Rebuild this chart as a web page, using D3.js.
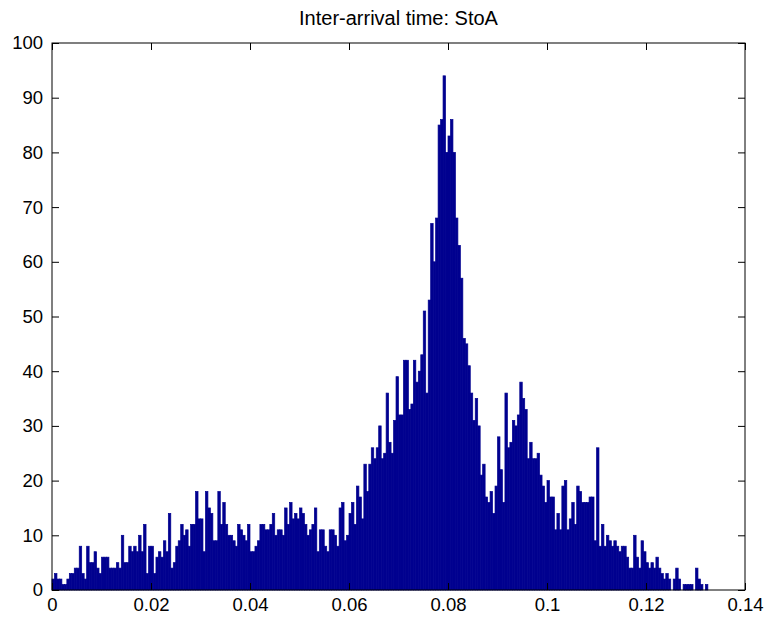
<!DOCTYPE html>
<html>
<head>
    <script src="https://d3js.org/d3.v7.min.js"></script>
    <style>
        body { margin: 0; background: #fff; }
        text { font-family: "Liberation Sans", Arial, sans-serif; }
    </style>
</head>
<body>
    <div id="chart" style="width: 770px; height: 618px;"></div>

    <script>
        // histogram counts, one per bin (bin width 0.0005, starting at 0)
        var binWidth = 0.0005;
        var counts = [
            2, 3, 2, 2, 1, 1, 2, 3, 3, 4, 4, 8, 3, 2, 8, 5, 5, 7, 4, 3,
            6, 6, 6, 4, 4, 4, 5, 4, 10, 5, 5, 8, 7, 8, 7, 10, 7, 12, 3, 8,
            8, 3, 6, 7, 6, 9, 7, 14, 4, 5, 8, 9, 12, 10, 11, 8, 12, 12, 18, 13,
            13, 7, 18, 15, 14, 9, 9, 18, 12, 16, 12, 10, 10, 9, 8, 12, 11, 10, 9, 12,
            7, 7, 8, 9, 12, 12, 11, 11, 12, 14, 10, 11, 11, 10, 15, 12, 16, 13, 14, 13,
            15, 14, 12, 10, 11, 12, 15, 7, 11, 11, 8, 7, 11, 11, 10, 8, 15, 16, 9, 10,
            14, 16, 12, 19, 17, 13, 23, 18, 23, 26, 24, 26, 30, 24, 25, 36, 27, 25, 31, 39,
            32, 32, 42, 42, 33, 34, 42, 38, 40, 43, 51, 36, 53, 67, 60, 68, 85, 86, 94, 80,
            83, 86, 80, 68, 63, 57, 46, 45, 41, 36, 31, 35, 30, 21, 23, 17, 16, 18, 14, 19,
            28, 22, 16, 36, 26, 27, 31, 30, 32, 38, 35, 33, 24, 27, 24, 24, 25, 21, 19, 16,
            20, 17, 17, 11, 14, 11, 19, 20, 11, 13, 16, 12, 19, 18, 16, 16, 16, 17, 17, 9,
            26, 8, 12, 8, 10, 9, 8, 9, 8, 7, 8, 8, 6, 4, 4, 10, 6, 4, 9, 7,
            5, 4, 5, 4, 6, 4, 3, 2, 3, 2, 0, 2, 4, 2, 0, 1, 1, 1, 1, 0,
            4, 2, 1, 0, 1
        ];

        var xTicks = [0, 0.02, 0.04, 0.06, 0.08, 0.1, 0.12, 0.14];
        var xTickLabels = ["0", "0.02", "0.04", "0.06", "0.08", "0.1", "0.12", "0.14"];
        var yTicks = [0, 10, 20, 30, 40, 50, 60, 70, 80, 90, 100];
        var titleText = "Inter-arrival time: StoA";

        function drawChart() {
            // step 1: svg and plot box
            var width = 770,
                height = 618;
            var boxLeft = 52, boxRight = 745, boxTop = 43, boxBottom = 590;

            var svg = d3.select("#chart")
                .append("svg")
                .attr("width", width)
                .attr("height", height);

            svg.append("rect")
                .attr("width", width)
                .attr("height", height)
                .attr("fill", "#fff");

            var x = d3.scaleLinear().domain([0, 0.14]).range([boxLeft, boxRight]);
            var y = d3.scaleLinear().domain([0, 100]).range([boxBottom, boxTop]);

            // step 2: bars (same-colour edge so neighbours mostly merge)
            svg.append("g")
                .selectAll("rect")
                .data(counts)
                .join("rect")
                .attr("x", function (d, i) { return x(i * binWidth); })
                .attr("width", function (d, i) { return x((i + 1) * binWidth) - x(i * binWidth); })
                .attr("y", function (d) { return y(d); })
                .attr("height", function (d) { return y(0) - y(d); })
                .attr("fill", "#00008f")
                .attr("stroke", "#00008f")
                .attr("stroke-width", 0.7);

            // step 3: axes, ticks point inward on all four sides
            var tick = 7;
            var fontSize = "18.5px";

            var xAxis = svg.append("g")
                .attr("transform", "translate(0," + boxBottom + ")")
                .call(d3.axisBottom(x).tickValues(xTicks)
                    .tickFormat(function (d, i) { return xTickLabels[i]; })
                    .tickSizeInner(-tick).tickSizeOuter(0).tickPadding(8));

            svg.append("g")
                .attr("transform", "translate(0," + boxTop + ")")
                .call(d3.axisTop(x).tickValues(xTicks).tickFormat("")
                    .tickSizeInner(-tick).tickSizeOuter(0));

            var yAxis = svg.append("g")
                .attr("transform", "translate(" + boxLeft + ",0)")
                .call(d3.axisLeft(y).tickValues(yTicks)
                    .tickSizeInner(-tick).tickSizeOuter(0).tickPadding(9));

            svg.append("g")
                .attr("transform", "translate(" + boxRight + ",0)")
                .call(d3.axisRight(y).tickValues(yTicks).tickFormat("")
                    .tickSizeInner(-tick).tickSizeOuter(0));

            svg.selectAll(".domain").remove();
            svg.selectAll(".tick line").attr("stroke", "#000");

            xAxis.selectAll("text")
                .attr("fill", "#000")
                .style("font-size", fontSize)
                .attr("dy", "0.72em");
            yAxis.selectAll("text")
                .attr("fill", "#000")
                .style("font-size", fontSize);

            // box round the plot
            svg.append("rect")
                .attr("x", boxLeft)
                .attr("y", boxTop)
                .attr("width", boxRight - boxLeft)
                .attr("height", boxBottom - boxTop)
                .attr("fill", "none")
                .attr("stroke", "#000")
                .attr("stroke-width", 1);

            // step 4: title
            svg.append("text")
                .attr("x", (boxLeft + boxRight) / 2)
                .attr("y", 25)
                .attr("text-anchor", "middle")
                .style("font-size", "20px")
                .text(titleText);
        }

        drawChart();
    </script>
</body>
</html>
